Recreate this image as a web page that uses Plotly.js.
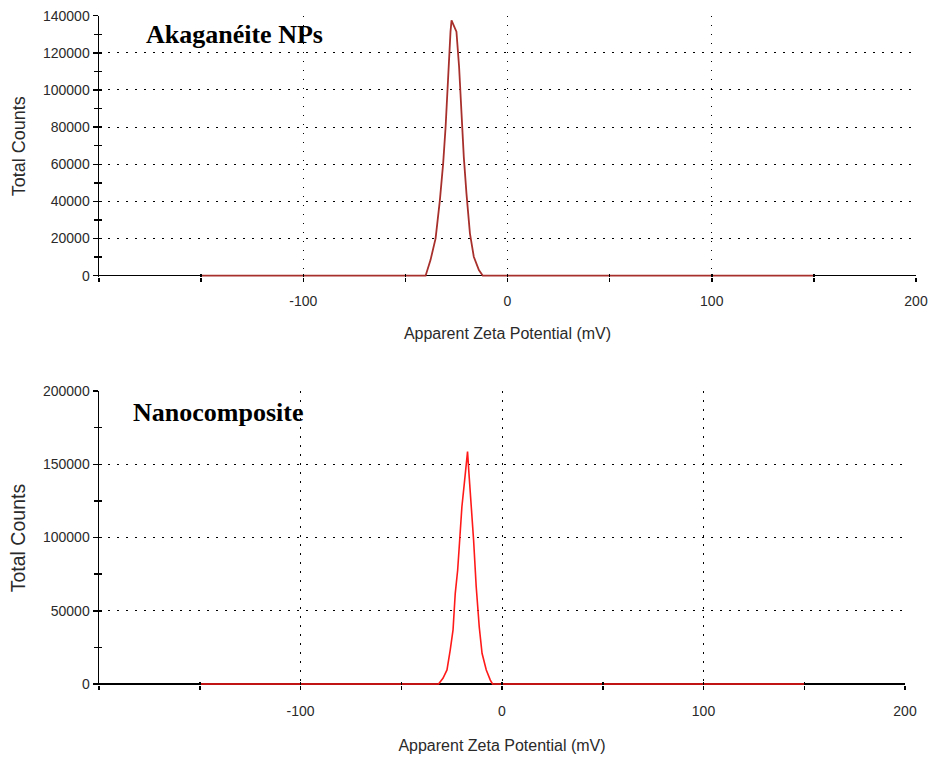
<!DOCTYPE html>
<html>
<head>
<meta charset="utf-8">
<script src="https://cdn.plot.ly/plotly-3.0.1.min.js"></script>
<style>html,body{margin:0;padding:0;background:#fff}#chart{width:932px;height:762px}</style>
</head>
<body>
<div id="chart"></div>
<script>
// ---- data ----
var akaganeiteX = [-150, -40.1, -37.7, -35.2, -33.1, -31.5, -30.3, -29.5, -28.4, -27.9, -27.4, -25.0, -23.7, -22.6, -21.4, -20.1, -18.4, -16.5, -14.0, -12.1, 150];
var akaganeiteY = [0, 0, 8400, 20100, 40700, 60500, 80200, 100000, 120600, 131400, 137500, 131400, 112500, 89200, 64000, 44300, 22800, 10200, 3000, 0, 0];
var compositeX = [-150, -31.5, -29.3, -27.3, -25.7, -24.3, -23.2, -22.0, -21.0, -19.9, -18.7, -17.9, -17.1, -16.4, -15.4, -14.1, -12.8, -11.3, -9.9, -7.8, -5.8, -4.7, 150];
var compositeY = [0, 0, 3900, 9600, 23200, 36900, 61900, 77800, 98300, 121000, 137000, 149500, 158600, 143800, 125600, 98300, 66400, 39100, 21000, 9600, 2700, 0, 0];
var xTickVals = [-100, 0, 100, 200];
var xTickText = ['-100', '0', '100', '200'];
var panelLabels = ['Akaganéite NPs', 'Nanocomposite'];
var xTitle = 'Apparent Zeta Potential (mV)';
var yTitle = 'Total Counts';

var sans = 'Liberation Sans, Arial, sans-serif';
var tickFont = {family: sans, size: 14, color: '#2a2a2a'};
var titleFont = {family: sans, size: 16, color: '#2a2a2a'};
var dotGrid = '1.5px,7.5px';

function xAxis(domain, yAnchor, labelGap, standoff) {
  return {
    domain: domain, anchor: yAnchor, range: [-200, 200], fixedrange: true,
    tickmode: 'array', tickvals: xTickVals, ticktext: xTickText,
    ticks: 'outside', ticklen: 4, tickwidth: 1.5, tickcolor: '#000',
    ticklabelstandoff: labelGap, tickfont: tickFont,
    minor: {tickmode: 'linear', tick0: 0, dtick: 50, ticks: 'outside', ticklen: 4, tickwidth: 1.5, tickcolor: '#000', showgrid: false},
    showline: false,
    showgrid: true, gridcolor: '#000', gridwidth: 1, griddash: dotGrid,
    zeroline: false, layer: 'below traces',
    title: {text: xTitle, font: titleFont, standoff: standoff}
  };
}
function xOverlay(over, yAnchor) {
  return {overlaying: over, anchor: yAnchor, range: [-200, 200], fixedrange: true,
    tickmode: 'linear', tick0: 0, dtick: 50, ticks: 'inside', ticklen: 3, tickwidth: 1.5, tickcolor: '#000',
    showticklabels: false, showgrid: false, showline: false, zeroline: false};
}
function yAxis(domain, xAnchor, lowV, maxV, major, minor, tSize) {
  return {
    domain: domain, anchor: xAnchor, range: [lowV, maxV], fixedrange: true,
    tickmode: 'linear', tick0: 0, dtick: major, tickformat: 'd',
    ticks: 'outside', ticklen: 5, tickwidth: 1.5, tickcolor: '#000', tickfont: tickFont,
    minor: {tickmode: 'linear', tick0: 0, dtick: minor, ticks: 'outside', ticklen: 4, tickwidth: 1.5, tickcolor: '#000', showgrid: false},
    showline: true, linecolor: '#000', linewidth: 1.5,
    showgrid: true, gridcolor: '#000', gridwidth: 1, griddash: dotGrid,
    zeroline: true, zerolinecolor: '#000', zerolinewidth: 1.5, layer: 'below traces',
    title: {text: yTitle, font: {family: sans, size: tSize, color: '#2a2a2a'}, standoff: 12}
  };
}
function yOverlay(over, xAnchor, lowV, maxV, minor) {
  return {overlaying: over, anchor: xAnchor, range: [lowV, maxV], fixedrange: true,
    tickmode: 'linear', tick0: 0, dtick: minor, ticks: 'inside', ticklen: 3, tickwidth: 1.5, tickcolor: '#000',
    showticklabels: false, showgrid: false, showline: false, zeroline: false};
}

var traces = [
  {x: akaganeiteX, y: akaganeiteY, xaxis: 'x', yaxis: 'y', type: 'scatter', mode: 'lines',
   line: {color: '#a8302c', width: 1.8}, hoverinfo: 'skip', showlegend: false},
  {x: compositeX, y: compositeY, xaxis: 'x2', yaxis: 'y2', type: 'scatter', mode: 'lines',
   line: {color: '#ff1a1a', width: 1.6}, hoverinfo: 'skip', showlegend: false},
  {x: [], y: [], xaxis: 'x3', yaxis: 'y3', type: 'scatter', mode: 'lines', showlegend: false},
  {x: [], y: [], xaxis: 'x4', yaxis: 'y4', type: 'scatter', mode: 'lines', showlegend: false}
];

var W = 932, H = 762;
// a small slack below zero so the red baseline sits on top of the black zero line
var topLow = -650, botLow = -750;
var layout = {
  width: W, height: H,
  margin: {l: 0, r: 0, t: 0, b: 0},
  paper_bgcolor: '#fff', plot_bgcolor: '#fff',
  showlegend: false,
  xaxis: xAxis([99 / W, 916 / W], 'y', 7, 20),
  yaxis: yAxis([(H - 276.9) / H, (H - 15.7) / H], 'x', topLow, 140000, 20000, 10000, 18),
  xaxis2: xAxis([99 / W, 905 / W], 'y2', 9, 21),
  yaxis2: yAxis([(H - 685.1) / H, (H - 391) / H], 'x2', botLow, 200000, 50000, 25000, 19.5),
  xaxis3: xOverlay('x', 'y3'),
  yaxis3: yOverlay('y', 'x3', topLow, 140000, 10000),
  xaxis4: xOverlay('x2', 'y4'),
  yaxis4: yOverlay('y2', 'x4', botLow, 200000, 25000),
  annotations: [
    {text: '<b>' + panelLabels[0] + '</b>', xref: 'paper', yref: 'paper', x: 144 / W, y: (H - 35) / H,
     xanchor: 'left', yanchor: 'middle', showarrow: false,
     font: {family: 'Liberation Serif, Times New Roman, serif', size: 26, color: '#000'}},
    {text: '<b>' + panelLabels[1] + '</b>', xref: 'paper', yref: 'paper', x: 131 / W, y: (H - 412) / H,
     xanchor: 'left', yanchor: 'middle', showarrow: false,
     font: {family: 'Liberation Serif, Times New Roman, serif', size: 26, color: '#000'}}
  ]
};

Plotly.newPlot('chart', traces, layout, {staticPlot: true, displayModeBar: false});
</script>
</body>
</html>
